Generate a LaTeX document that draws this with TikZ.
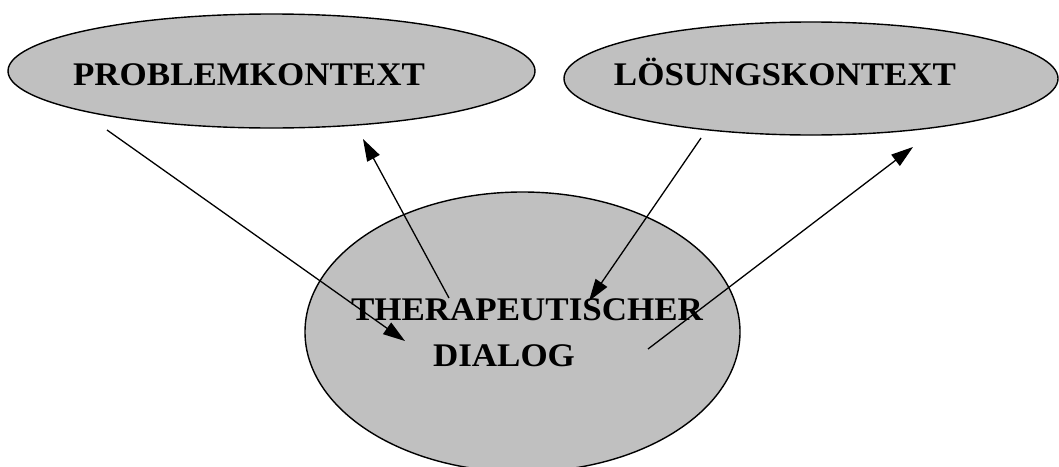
\documentclass[tikz,border=0pt]{standalone}
\usepackage{graphicx}
\usepackage{fontspec}
\setmainfont{Liberation Serif}
\usetikzlibrary{shapes.geometric,arrows.meta}
\definecolor{ctxgray}{HTML}{C0C0C0}
\newcommand{\widelbl}[1]{\scalebox{1.06}[1]{#1}}
\begin{document}
\begin{tikzpicture}[x=1pt,y=-1pt,
  ctx/.style={ellipse,draw=black,line width=1.4pt,fill=ctxgray,inner sep=0pt},
  lbl/.style={font=\bfseries\fontsize{33}{39}\selectfont,inner sep=0pt},
  flow/.style={line width=1.3pt,-{Triangle[length=22pt,width=14pt]}}]
\useasboundingbox (0,0) rectangle (1059,466);
% the three contexts
\node[ctx,minimum width=527pt,minimum height=114pt] (prob) at (271.5,71) {};
\node[ctx,minimum width=494pt,minimum height=113pt] (loes) at (811,78.5) {};
\node[ctx,minimum width=435pt,minimum height=280pt] (dial) at (522.5,332) {};
% labels
\node[lbl,anchor=base] (probt) at (249,85) {\widelbl{PROBLEMKONTEXT}};
\node[lbl,anchor=base] (loest) at (785,85) {\widelbl{LÖSUNGSKONTEXT}};
\node[lbl,anchor=base] (dialt1) at (527,320) {\widelbl{THERAPEUTISCHER}};
\node[lbl,anchor=base] (dialt2) at (504,366) {\widelbl{DIALOG}};
% arrow end points
\coordinate (p1) at (107,130);
\coordinate (p2) at (405,341);
\coordinate (p3) at (449,298);
\coordinate (p4) at (363,139);
\coordinate (p5) at (701,138);
\coordinate (p6) at (589,301);
\coordinate (p7) at (648,349);
\coordinate (p8) at (913,147);
% exchanges between contexts and dialogue
\draw[flow] (p1) -- (p2);
\draw[flow] (p3) -- (p4);
\draw[flow] (p5) -- (p6);
\draw[flow] (p7) -- (p8);
\end{tikzpicture}
\end{document}
